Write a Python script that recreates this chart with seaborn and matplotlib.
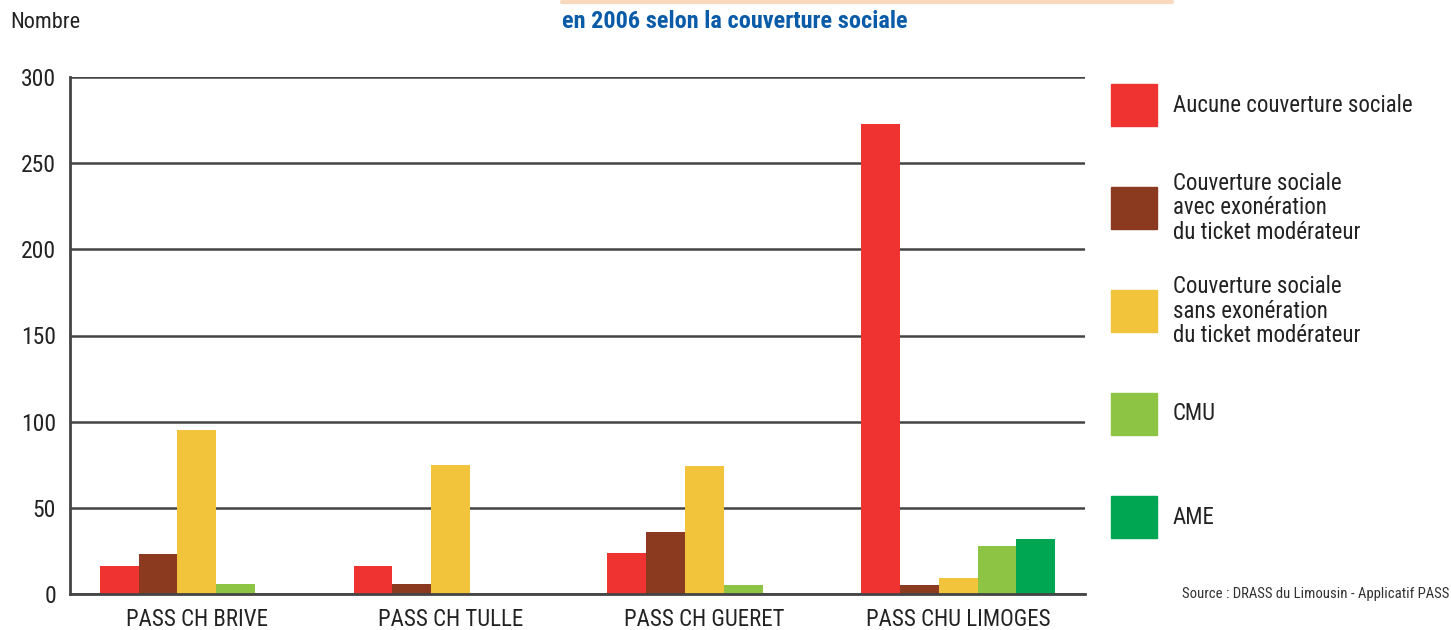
import numpy as np
import pandas as pd
import seaborn as sns
import matplotlib.pyplot as plt
from matplotlib.patches import Rectangle

sites = ["PASS CH BRIVE", "PASS CH TULLE", "PASS CH GUERET", "PASS CHU LIMOGES"]
couvertures = ["Aucune couverture sociale",
               "Couverture sociale\navec exonération\ndu ticket modérateur",
               "Couverture sociale\nsans exonération\ndu ticket modérateur",
               "CMU",
               "AME"]
aucune = [16, 16, 24, 273]
avec_exo = [23, 6, 36, 5]
sans_exo = [95, 75, 74, 9]
cmu = [6, 0, 5, 28]
ame = [0, 0, 0, 32]
couleurs = ["#ee3331", "#8b3a1f", "#f2c43c", "#8dc443", "#00a651"]

if __name__ == '__main__':
    sns.set_style("white")
    plt.rcParams['font.family'] = ['Roboto Condensed', 'DejaVu Sans']

    series = [aucune, avec_exo, sans_exo, cmu, ame]
    df = pd.DataFrame({
        "site": sites * 5,
        "couverture": [c for c in couvertures for _ in sites],
        "nombre": [v for s in series for v in s],
    })

    fig = plt.figure(figsize=(14.51, 6.30), dpi=100)
    ax = fig.add_axes([70/1451, 36/630, 1015/1451, 517/630])

    sns.barplot(ax=ax, data=df, x="site", y="nombre", hue="couverture",
                palette=couleurs, width=0.765, saturation=1, legend=False,
                errorbar=None, linewidth=0)

    ax.set_ylim(0, 300)
    ax.set_xlim(-0.5, 3.5)
    ax.set_yticks(range(0, 301, 50))
    ax.yaxis.grid(True, color="#444444", linewidth=1.8)
    ax.set_axisbelow(True)
    ax.set_xlabel("")
    ax.set_ylabel("")
    for side in ["top", "right"]:
        ax.spines[side].set_visible(False)
    for side in ["left", "bottom"]:
        ax.spines[side].set_color("#444444")
        ax.spines[side].set_linewidth(2)
    ax.tick_params(axis="y", length=0, pad=10, labelsize=17, labelcolor="#222222")
    ax.tick_params(axis="x", which="major", length=0, pad=10, labelsize=16.5, labelcolor="#222222")
    ax.set_xticks([0.5, 1.5, 2.5], minor=True)
    ax.tick_params(axis="x", which="minor", length=8, width=1.2, color="#444444", direction="out")

    # légende à droite
    for i, (lab, col) in enumerate(zip(couvertures, couleurs)):
        yc = 1 - (105 + 103 * i) / 630
        fig.patches.append(Rectangle((1111/1451, yc - 21/630), 46/1451, 42/630,
                                     transform=fig.transFigure, color=col))
        fig.text(1173/1451, yc, lab, fontsize=16.5, color="#222222",
                 va="center", ha="left", linespacing=1.1)

    fig.text(10/1451, 1 - 22/630, "Nombre", fontsize=16, color="#222222", va="center")
    fig.text(562/1451, 1 - 22/630, "en 2006 selon la couverture sociale", fontsize=17.5,
             color="#0a5ca8", fontweight="bold", va="center")
    fig.add_artist(plt.Line2D([562/1451, 1172/1451], [1 - 1.5/630, 1 - 1.5/630],
                              color="#f9d9bd", linewidth=3, transform=fig.transFigure))
    fig.text(1449/1451, 1 - 594/630, "Source : DRASS du Limousin - Applicatif PASS",
             fontsize=10.6, color="#333333", ha="right", va="center")

    fig.savefig("out.png", dpi=100)
